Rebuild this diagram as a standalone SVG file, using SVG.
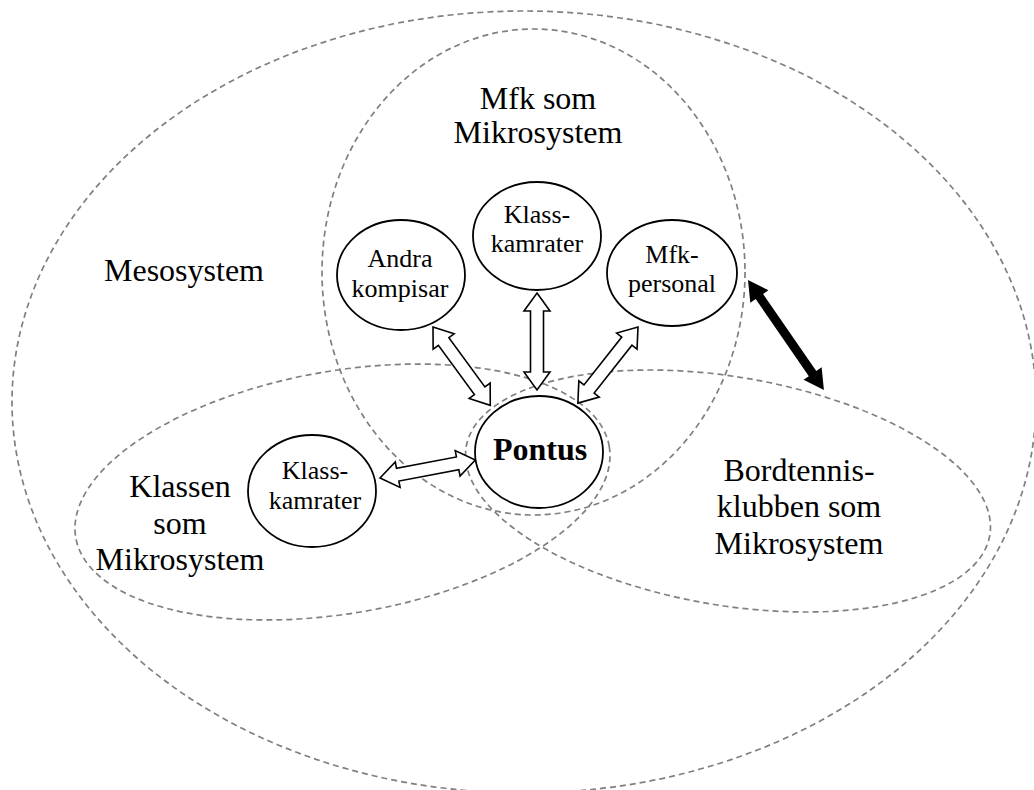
<svg xmlns="http://www.w3.org/2000/svg" width="1034" height="790" viewBox="0 0 1034 790">
  <style>
    .sys { fill: none; stroke: #808080; stroke-width: 1.7; stroke-dasharray: 6 4; }
    .node { fill: #ffffff; stroke: #000000; stroke-width: 1.8; }
    .lbl { font-family: "Liberation Serif", "Times New Roman", serif; font-size: 32px; fill: #000; text-anchor: middle; }
    .nlbl { font-family: "Liberation Serif", "Times New Roman", serif; font-size: 26px; fill: #000; text-anchor: middle; }
    .bold { font-weight: bold; font-size: 32px; }
    .hollow { fill: #ffffff; stroke: #000000; stroke-width: 1.6; stroke-linejoin: miter; }
    .solid { fill: #000000; stroke: none; }
  </style>
  <defs>
    <!-- double-headed block arrow, 97 px long, along +x from the origin -->
    <path id="dbl" d="M0,0 L18,-13 L18,-6.5 L79,-6.5 L79,-13 L97,0 L79,13 L79,6.5 L18,6.5 L18,13 Z"/>
  </defs>

  <!-- system boundaries -->
  <g id="systems">
    <ellipse id="mesosystem" class="sys" cx="524" cy="402" rx="512" ry="391"/>
    <ellipse id="mfk-system" class="sys" cx="533.5" cy="272" rx="211.5" ry="243"/>
    <ellipse id="klassen-system" class="sys" cx="342.5" cy="492" rx="270.6" ry="121.3" transform="rotate(-9.7 342.5 492)"/>
    <ellipse id="bordtennis-system" class="sys" cx="728" cy="491" rx="265.5" ry="114.2" transform="rotate(9.6 728 491)"/>
  </g>

  <!-- system labels -->
  <g id="labels">
    <text class="lbl" x="184" y="281">Mesosystem</text>
    <text class="lbl" x="538" y="109">Mfk som</text>
    <text class="lbl" x="538" y="143">Mikrosystem</text>
    <text class="lbl" x="180" y="497">Klassen</text>
    <text class="lbl" x="180" y="534">som</text>
    <text class="lbl" x="180" y="570">Mikrosystem</text>
    <text class="lbl" x="799" y="481">Bordtennis-</text>
    <text class="lbl" x="799" y="517">klubben som</text>
    <text class="lbl" x="799" y="554">Mikrosystem</text>
  </g>

  <!-- connectors -->
  <g id="connectors">
    <use href="#dbl" class="hollow" transform="translate(433,327) rotate(53.8)"/>
    <use href="#dbl" class="hollow" transform="translate(537,293) rotate(90)"/>
    <use href="#dbl" class="hollow" transform="translate(638,327) rotate(128.3)"/>
    <use href="#dbl" class="hollow" transform="translate(380,478) rotate(-10.7)"/>
    <path class="solid" transform="translate(748,280) rotate(55.4)" d="M0,0 L20,-11 L20,-4.5 L113.7,-4.5 L113.7,-11 L133.7,0 L113.7,11 L113.7,4.5 L20,4.5 L20,11 Z"/>
  </g>

  <g id="andra-kompisar">
    <ellipse class="node" cx="401" cy="275" rx="64" ry="55"/>
    <text class="nlbl" x="400" y="267">Andra</text>
    <text class="nlbl" x="400" y="297">kompisar</text>
  </g>

  <g id="klasskamrater-mfk">
    <ellipse class="node" cx="537" cy="236" rx="64" ry="54"/>
    <text class="nlbl" x="537" y="223">Klass-</text>
    <text class="nlbl" x="537" y="252">kamrater</text>
  </g>

  <g id="mfk-personal">
    <ellipse class="node" cx="672" cy="273" rx="65" ry="53"/>
    <text class="nlbl" x="672" y="263">Mfk-</text>
    <text class="nlbl" x="672" y="292">personal</text>
  </g>

  <g id="pontus">
    <ellipse class="node" cx="539" cy="452" rx="64" ry="56"/>
    <text class="nlbl bold" x="540" y="460">Pontus</text>
  </g>

  <g id="klasskamrater-klassen">
    <ellipse class="node" cx="312" cy="491" rx="64" ry="56"/>
    <text class="nlbl" x="315" y="479">Klass-</text>
    <text class="nlbl" x="315" y="509">kamrater</text>
  </g>
</svg>
